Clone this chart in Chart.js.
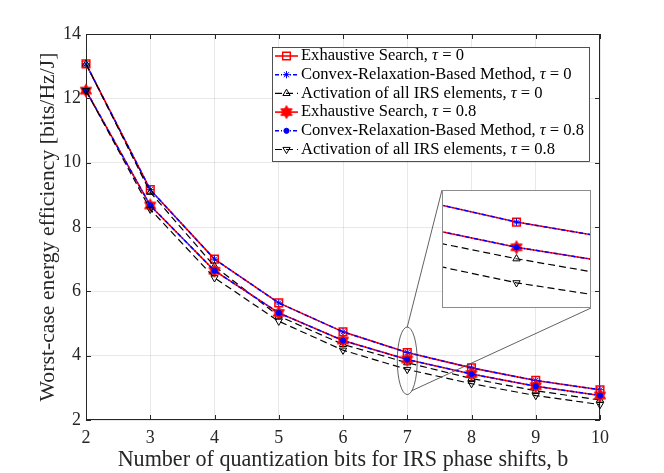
<!DOCTYPE html>
<html>
<head>
<meta charset="utf-8">
<title>Worst-case energy efficiency</title>
<script src="https://cdn.jsdelivr.net/npm/chart.js@4.4.0/dist/chart.umd.min.js"></script>
<style>
    body { margin: 0; background: #ffffff; }
    #wrap { position: relative; width: 664px; height: 473px; }
    #inset {
        position: absolute; left: 442px; top: 190px; width: 149px; height: 118px;
        border: 1px solid #8c8c8c; box-sizing: border-box; background: #ffffff;
    }
    #inset canvas { display: block; }
</style>
</head>
<body>
<div id="wrap">
    <canvas id="grafica" width="664" height="473"></canvas>
    <div id="inset"><canvas id="graficaZoom" width="147" height="116"></canvas></div>
</div>
<script>
// datos
const bits = [2, 3, 4, 5, 6, 7, 8, 9, 10];
const exhaustiveTau0 = [13.07, 9.16, 7.00, 5.64, 4.74, 4.10, 3.62, 3.23, 2.94];
const convexTau0 = [13.07, 9.16, 7.00, 5.64, 4.74, 4.10, 3.62, 3.23, 2.94];
const allIrsTau0 = [13.07, 9.08, 6.78, 5.23, 4.35, 3.78, 3.29, 2.91, 2.62];
const exhaustiveTau08 = [12.24, 8.67, 6.64, 5.33, 4.47, 3.88, 3.43, 3.05, 2.76];
const convexTau08 = [12.24, 8.67, 6.64, 5.33, 4.47, 3.88, 3.43, 3.05, 2.76];
const allIrsTau08 = [12.24, 8.55, 6.42, 5.07, 4.17, 3.57, 3.13, 2.76, 2.48];

const xTicks = [2, 3, 4, 5, 6, 7, 8, 9, 10];
const yTicks = [2, 4, 6, 8, 10, 12, 14];

const seriesLabels = [
    'Exhaustive Search, τ = 0',
    'Convex-Relaxation-Based Method, τ = 0',
    'Activation of all IRS elements, τ = 0',
    'Exhaustive Search, τ = 0.8',
    'Convex-Relaxation-Based Method, τ = 0.8',
    'Activation of all IRS elements, τ = 0.8'
];

const xTitle = 'Number of quantization bits for IRS phase shifts, b';
const yTitle = 'Worst-case energy efficiency [bits/Hz/J]';

// zona ampliada (unidades de datos)
const insetXRange = [6.795, 7.205];
const insetYRange = [3.42, 4.31];
const ellipseCenter = [7, 3.84];
const ellipseRadius = [0.155, 1.05];

const FUENTE = '"Liberation Serif", "DejaVu Serif", serif';
const EJE = '#262626';

// tamaño de letra para que el texto ocupe el mismo ancho que en la figura
function tamanoParaAncho(texto, ancho) {
    const g = document.createElement('canvas').getContext('2d');
    g.font = '20px ' + FUENTE;
    return 20 * ancho / g.measureText(texto).width;
}

const sizeXTitle = tamanoParaAncho(xTitle, 451);
const sizeYTitle = tamanoParaAncho(yTitle, 349);
const sizeLeyenda = tamanoParaAncho(seriesLabels[4], 284);

function crearHexagrama(color, radio) {
    const c = document.createElement('canvas');
    const lado = Math.ceil(radio * 2 + 3);
    c.width = lado;
    c.height = lado;
    const g = c.getContext('2d');
    const interior = radio / Math.sqrt(3);
    g.beginPath();
    for (let k = 0; k < 12; k++) {
        const r = k % 2 === 0 ? radio : interior;
        const ang = -Math.PI / 2 + k * Math.PI / 6;
        const px = lado / 2 + r * Math.cos(ang);
        const py = lado / 2 + r * Math.sin(ang);
        if (k === 0) g.moveTo(px, py); else g.lineTo(px, py);
    }
    g.closePath();
    g.fillStyle = color;
    g.fill();
    g.strokeStyle = color;
    g.lineWidth = 1;
    g.stroke();
    return c;
}

const hexagrama = crearHexagrama('#ff0000', 6.5);

function puntos(valores) {
    return valores.map((v, i) => ({ x: bits[i], y: v }));
}

function crearDatasets() {
    const estilos = [
        { data: exhaustiveTau0, borderColor: '#ff0000', borderWidth: 1.6, borderDash: [],
          pointStyle: 'rect', pointRadius: 5.4, pointBorderWidth: 1.5, pointBackgroundColor: 'rgba(0,0,0,0)' },
        { data: convexTau0, borderColor: '#0000ff', borderWidth: 1.5, borderDash: [4, 2, 1, 2],
          pointStyle: 'star', pointRadius: 3.6, pointBorderWidth: 1, pointBackgroundColor: 'rgba(0,0,0,0)' },
        { data: allIrsTau0, borderColor: '#000000', borderWidth: 1.2, borderDash: [7, 4],
          pointStyle: 'triangle', pointRadius: 4.2, pointBorderWidth: 1, pointBackgroundColor: 'rgba(0,0,0,0)' },
        { data: exhaustiveTau08, borderColor: '#ff0000', borderWidth: 1.6, borderDash: [],
          pointStyle: hexagrama, pointRadius: 6, pointBorderWidth: 1, pointBackgroundColor: '#ff0000' },
        { data: convexTau08, borderColor: '#0000ff', borderWidth: 1.5, borderDash: [4, 2, 1, 2],
          pointStyle: 'circle', pointRadius: 2.6, pointBorderWidth: 1, pointBackgroundColor: '#0000ff' },
        { data: allIrsTau08, borderColor: '#000000', borderWidth: 1.2, borderDash: [7, 4],
          pointStyle: 'triangle', pointRotation: 180, pointRadius: 4.2, pointBorderWidth: 1, pointBackgroundColor: 'rgba(0,0,0,0)' }
    ];
    return estilos.map((e, i) => ({
        label: seriesLabels[i],
        data: puntos(e.data),
        borderColor: e.borderColor,
        borderWidth: e.borderWidth,
        borderDash: e.borderDash,
        pointStyle: e.pointStyle,
        pointRotation: e.pointRotation || 0,
        pointRadius: e.pointRadius,
        pointHoverRadius: e.pointRadius,
        pointBorderWidth: e.pointBorderWidth,
        pointBorderColor: e.borderColor,
        pointBackgroundColor: e.pointBackgroundColor,
        fill: false,
        tension: 0,
        clip: false,
        // como en MATLAB: la ultima serie queda encima
        order: estilos.length - i
    }));
}

// caja de ejes con marcas hacia dentro
const marcoEjes = {
    id: 'marcoEjes',
    beforeDatasetsDraw(chart) {
        const { ctx, chartArea: a, scales: { x, y } } = chart;
        ctx.save();
        ctx.strokeStyle = EJE;
        ctx.lineWidth = 1;
        ctx.setLineDash([]);
        ctx.strokeRect(a.left + 0.5, a.top + 0.5, a.right - a.left - 1, a.bottom - a.top - 1);
        ctx.beginPath();
        xTicks.forEach(v => {
            const px = Math.round(x.getPixelForValue(v)) + 0.5;
            ctx.moveTo(px, a.bottom); ctx.lineTo(px, a.bottom - 5);
            ctx.moveTo(px, a.top); ctx.lineTo(px, a.top + 5);
        });
        yTicks.forEach(v => {
            const py = Math.round(y.getPixelForValue(v)) + 0.5;
            ctx.moveTo(a.left, py); ctx.lineTo(a.left + 5, py);
            ctx.moveTo(a.right, py); ctx.lineTo(a.right - 5, py);
        });
        ctx.stroke();
        ctx.restore();
    }
};

// elipse de la zona ampliada y lineas hacia el recuadro
const zonaAmpliada = {
    id: 'zonaAmpliada',
    afterDatasetsDraw(chart) {
        const { ctx, scales: { x, y } } = chart;
        const cx = x.getPixelForValue(ellipseCenter[0]);
        const cy = y.getPixelForValue(ellipseCenter[1]);
        const rx = x.getPixelForValue(ellipseCenter[0] + ellipseRadius[0]) - cx;
        const ry = cy - y.getPixelForValue(ellipseCenter[1] + ellipseRadius[1]);
        const recuadro = document.getElementById('inset');
        const izq = recuadro.offsetLeft, arr = recuadro.offsetTop;
        const der = izq + recuadro.offsetWidth, aba = arr + recuadro.offsetHeight;
        const ang = 62 * Math.PI / 180;

        ctx.save();
        ctx.strokeStyle = '#3a3a3a';
        ctx.lineWidth = 0.8;
        ctx.setLineDash([]);
        ctx.beginPath();
        ctx.ellipse(cx, cy, rx, ry, 0, 0, Math.PI * 2);
        ctx.stroke();
        ctx.beginPath();
        ctx.moveTo(cx, cy - ry);
        ctx.lineTo(izq, arr);
        ctx.moveTo(cx + rx * Math.cos(ang), cy + ry * Math.sin(ang));
        ctx.lineTo(der, aba);
        ctx.stroke();
        ctx.restore();
    }
};

function dibujarTexto(ctx, texto, x, y, size) {
    // tau en cursiva, el resto normal
    const partes = texto.split(/(τ)/);
    let pos = x;
    partes.forEach(p => {
        if (!p) return;
        ctx.font = (p === 'τ' ? 'italic ' : '') + size + 'px ' + FUENTE;
        ctx.fillText(p, pos, y);
        pos += ctx.measureText(p).width;
    });
}

// leyenda dentro de los ejes, arriba a la derecha
const leyendaMatlab = {
    id: 'leyendaMatlab',
    afterDraw(chart) {
        const ctx = chart.ctx;
        const caja = { left: 272, top: 47, width: 317, height: 114 };
        const filaY0 = 56, paso = 18.7;
        ctx.save();
        ctx.fillStyle = '#ffffff';
        ctx.fillRect(caja.left, caja.top, caja.width, caja.height);
        ctx.strokeStyle = EJE;
        ctx.lineWidth = 0.8;
        ctx.strokeRect(caja.left + 0.5, caja.top + 0.5, caja.width, caja.height);

        chart.data.datasets.forEach((ds, i) => {
            const yy = filaY0 + i * paso;
            ctx.strokeStyle = ds.borderColor;
            ctx.lineWidth = ds.borderWidth;
            ctx.setLineDash(ds.borderDash);
            ctx.beginPath();
            ctx.moveTo(caja.left + 3, yy);
            ctx.lineTo(caja.left + 26, yy);
            ctx.stroke();
            ctx.setLineDash([]);
            ctx.fillStyle = ds.pointBackgroundColor;
            ctx.strokeStyle = ds.pointBorderColor;
            ctx.lineWidth = ds.pointBorderWidth;
            Chart.helpers.drawPoint(ctx, {
                pointStyle: ds.pointStyle,
                rotation: ds.pointRotation,
                radius: ds.pointRadius,
                borderWidth: ds.pointBorderWidth
            }, caja.left + 14.5, yy);
            ctx.fillStyle = '#000000';
            ctx.textBaseline = 'middle';
            ctx.textAlign = 'left';
            dibujarTexto(ctx, ds.label, caja.left + 29, yy, sizeLeyenda);
        });
        ctx.restore();
    }
};

function crearGraficaPrincipal() {
    const ctx = document.getElementById('grafica').getContext('2d');
    return new Chart(ctx, {
        type: 'line',
        data: { datasets: crearDatasets() },
        options: {
            responsive: false,
            animation: false,
            events: [],
            layout: { padding: { left: 0, right: 64, top: 34, bottom: 0 } },
            plugins: {
                legend: { display: false },
                tooltip: { enabled: false }
            },
            scales: {
                x: {
                    type: 'linear',
                    min: 2,
                    max: 10,
                    afterBuildTicks: s => { s.ticks = xTicks.map(v => ({ value: v })); },
                    afterFit: s => { s.height = 53; },
                    grid: { color: 'rgba(0, 0, 0, 0.09)', drawTicks: false },
                    border: { display: false },
                    ticks: {
                        color: EJE,
                        padding: 7,
                        maxRotation: 0,
                        font: { family: FUENTE, size: 18 }
                    },
                    title: {
                        display: true,
                        text: xTitle,
                        color: EJE,
                        padding: { top: 1, bottom: 0 },
                        font: { family: FUENTE, size: sizeXTitle }
                    }
                },
                y: {
                    min: 2,
                    max: 14,
                    afterBuildTicks: s => { s.ticks = yTicks.map(v => ({ value: v })); },
                    afterFit: s => { s.width = 86; },
                    grid: { color: 'rgba(0, 0, 0, 0.09)', drawTicks: false },
                    border: { display: false },
                    ticks: {
                        color: EJE,
                        padding: 5,
                        font: { family: FUENTE, size: 18 }
                    },
                    title: {
                        display: true,
                        text: yTitle,
                        color: EJE,
                        padding: { top: 35, bottom: 0 },
                        font: { family: FUENTE, size: sizeYTitle }
                    }
                }
            }
        },
        plugins: [marcoEjes, zonaAmpliada, leyendaMatlab]
    });
}

function crearGraficaZoom() {
    const ctx = document.getElementById('graficaZoom').getContext('2d');
    return new Chart(ctx, {
        type: 'line',
        data: { datasets: crearDatasets() },
        options: {
            responsive: false,
            animation: false,
            events: [],
            layout: { padding: 0 },
            plugins: {
                legend: { display: false },
                tooltip: { enabled: false }
            },
            scales: {
                x: { type: 'linear', display: false, min: insetXRange[0], max: insetXRange[1] },
                y: { display: false, min: insetYRange[0], max: insetYRange[1] }
            }
        }
    });
}

crearGraficaPrincipal();
crearGraficaZoom();
</script>
</body>
</html>
